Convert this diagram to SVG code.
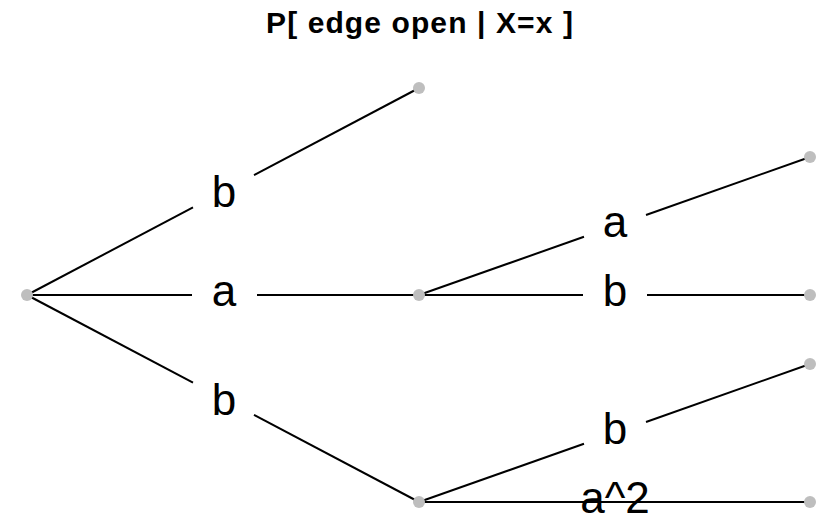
<svg xmlns="http://www.w3.org/2000/svg" width="821" height="524" viewBox="0 0 821 524">
  <style>
    .edge { stroke: #000; stroke-width: 2; fill: none; }
    .node circle { fill: #BEBEBE; }
    .lbl { font-family: "Liberation Sans", Arial, sans-serif; font-size: 44px; fill: #000; text-anchor: middle; }
    .title { font-family: "Liberation Sans", Arial, sans-serif; font-size: 30px; font-weight: bold; letter-spacing: 1.1px; fill: #000; text-anchor: middle; }
  </style>
  <rect width="821" height="524" fill="#fff"/>
  <text class="title" x="420" y="33">P[ edge open | X=x ]</text>

  <!-- edges, broken around their labels -->
  <g id="connectors">
    <!-- root -> top: b -->
    <line class="edge" x1="27" y1="295" x2="193" y2="207.4"/>
    <line class="edge" x1="254" y1="175.2" x2="419" y2="88"/>
    <!-- root -> mid: a -->
    <line class="edge" x1="27" y1="295" x2="192" y2="295"/>
    <line class="edge" x1="257" y1="295" x2="419" y2="295"/>
    <!-- root -> bottom: b -->
    <line class="edge" x1="27" y1="295" x2="193" y2="382.6"/>
    <line class="edge" x1="254" y1="414.8" x2="419" y2="502"/>
    <!-- mid -> upper right: a -->
    <line class="edge" x1="419" y1="295" x2="584" y2="236.8"/>
    <line class="edge" x1="646" y1="215" x2="810" y2="157"/>
    <!-- mid -> right: b -->
    <line class="edge" x1="419" y1="295" x2="583" y2="295"/>
    <line class="edge" x1="647" y1="295" x2="810" y2="295"/>
    <!-- bottom -> right: b -->
    <line class="edge" x1="419" y1="502" x2="584" y2="443.8"/>
    <line class="edge" x1="646" y1="422" x2="810" y2="364"/>
    <!-- bottom -> lower right: a^2 (unbroken) -->
    <line class="edge" x1="419" y1="502" x2="810" y2="502"/>
  </g>

  <g id="labels">
    <text class="lbl" x="224" y="207">b</text>
    <text class="lbl" x="224" y="306">a</text>
    <text class="lbl" x="224" y="415">b</text>
    <text class="lbl" x="615" y="237">a</text>
    <text class="lbl" x="615" y="306">b</text>
    <text class="lbl" x="615" y="444">b</text>
    <text class="lbl" x="615" y="513">a^2</text>
  </g>

  <g id="n-root" class="node"><circle cx="27" cy="295" r="6"/></g>
  <g id="n-top" class="node"><circle cx="419" cy="88" r="6"/></g>
  <g id="n-mid" class="node"><circle cx="419" cy="295" r="6"/></g>
  <g id="n-bot" class="node"><circle cx="419" cy="502" r="6"/></g>
  <g id="n-r1" class="node"><circle cx="810" cy="157" r="6"/></g>
  <g id="n-r2" class="node"><circle cx="810" cy="295" r="6"/></g>
  <g id="n-r3" class="node"><circle cx="810" cy="364" r="6"/></g>
  <g id="n-r4" class="node"><circle cx="810" cy="502" r="6"/></g>
</svg>
